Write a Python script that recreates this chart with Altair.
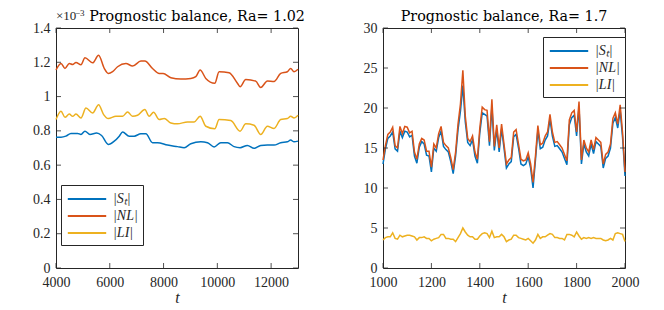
import altair as alt
import pandas as pd

FONT = "Liberation Serif"
TFONT = "DejaVu Serif"
BLUE, ORANGE, YELLOW = "#0072BD", "#D95319", "#EDB120"
LABELS = ["|Sₜ|", "|NL|", "|LI|"]
TXT = "#262626"

# ---------------- left panel (Ra = 1.02), values in units of 1e-3 ----------------
t_st_l = [4000, 4186, 4366, 4557, 4805, 4929, 5077, 5262, 5510, 5695, 5944, 6167, 6352, 6476,
          6724, 6909, 7157, 7343, 7590, 7776, 8147, 8519, 8767, 9014, 9386, 9633, 9881, 10128,
          10376, 10623, 10846, 11119, 11366, 11614, 11861, 12109, 12357, 12604, 12728, 12852, 13000]
v_st_l = [0.763, 0.763, 0.769, 0.785, 0.785, 0.779, 0.798, 0.779, 0.787, 0.773, 0.721, 0.740,
          0.769, 0.794, 0.768, 0.769, 0.783, 0.783, 0.731, 0.731, 0.717, 0.708, 0.702, 0.725,
          0.736, 0.731, 0.706, 0.731, 0.731, 0.708, 0.702, 0.715, 0.698, 0.715, 0.717, 0.717,
          0.731, 0.736, 0.746, 0.736, 0.740]

t_nl_l = [4000, 4186, 4334, 4495, 4619, 4743, 4929, 5077, 5362, 5585, 5795, 5944, 6105, 6290,
          6600, 6847, 7157, 7305, 7590, 7838, 7986, 8271, 8643, 9014, 9200, 9360, 9571, 9905,
          10066, 10438, 10747, 10846, 11057, 11428, 11614, 11861, 12109, 12357, 12604, 12728,
          12852, 13000]
v_nl_l = [1.155, 1.193, 1.164, 1.193, 1.187, 1.199, 1.186, 1.226, 1.197, 1.241, 1.164, 1.135,
          1.145, 1.174, 1.193, 1.178, 1.207, 1.207, 1.164, 1.135, 1.135, 1.110, 1.103, 1.106,
          1.116, 1.155, 1.106, 1.078, 1.145, 1.139, 1.078, 1.058, 1.100, 1.090, 1.053, 1.091,
          1.088, 1.135, 1.145, 1.164, 1.145, 1.159]

t_li_l = [4000, 4186, 4334, 4495, 4619, 4743, 4929, 5115, 5362, 5585, 5771, 5944, 6229, 6476,
          6662, 6847, 7033, 7305, 7466, 7627, 7838, 8024, 8271, 8519, 8890, 9138, 9360, 9571,
          9905, 10066, 10500, 10846, 11057, 11366, 11614, 11861, 12109, 12357, 12604, 12728,
          12852, 13000]
v_li_l = [0.866, 0.914, 0.879, 0.898, 0.885, 0.898, 0.875, 0.933, 0.904, 0.952, 0.895, 0.872,
          0.885, 0.885, 0.910, 0.885, 0.891, 0.924, 0.885, 0.908, 0.866, 0.872, 0.846, 0.841,
          0.852, 0.852, 0.885, 0.827, 0.812, 0.866, 0.860, 0.798, 0.841, 0.833, 0.779, 0.827,
          0.814, 0.866, 0.872, 0.885, 0.875, 0.891]

# ---------------- right panel (Ra = 1.7) ----------------
t_r = list(range(1000, 2001, 10))
v_nl_r = [13.5, 15.3, 16.7, 17.0, 17.6, 15.3, 15.0, 17.7, 16.8, 17.7,
          17.6, 16.9, 17.1, 14.5, 13.6, 15.5, 16.2, 16.0, 14.6, 14.6,
          12.6, 15.5, 15.0, 16.8, 17.7, 15.7, 15.3, 15.0, 13.8, 12.3,
          14.5, 18.0, 20.5, 24.7, 19.0, 16.2, 15.8, 16.5, 14.5, 13.6,
          17.5, 20.1, 19.8, 19.7, 15.8, 21.1, 15.2, 17.9, 15.0, 18.0,
          15.5, 13.0, 13.5, 13.8, 17.0, 17.3, 15.5, 13.6, 13.4, 13.5,
          14.4, 13.0, 10.7, 14.0, 17.8, 15.4, 15.6, 16.5, 17.0, 19.2,
          17.0, 15.7, 15.8, 15.4, 15.0, 14.2, 13.4, 18.5, 19.4, 19.7,
          17.0, 20.8, 13.5, 16.0, 15.0, 14.5, 16.0, 14.8, 16.3, 16.0,
          15.7, 13.0, 14.2, 14.5, 15.5, 18.7, 19.4, 18.0, 20.4, 16.9, 12.0]
v_st_r = [13.0, 14.9, 16.2, 16.5, 17.0, 14.9, 14.6, 17.1, 16.3, 17.1,
          17.0, 16.4, 16.6, 14.0, 13.1, 15.1, 15.8, 15.5, 14.1, 14.0,
          12.0, 15.0, 14.6, 16.3, 17.1, 15.2, 14.8, 14.5, 13.3, 11.8,
          14.0, 17.3, 19.6, 22.8, 18.3, 15.7, 15.3, 16.0, 14.0, 13.1,
          16.9, 19.4, 19.2, 19.0, 15.3, 20.2, 14.7, 17.3, 14.5, 17.4,
          15.0, 12.5, 13.0, 13.3, 16.4, 16.7, 15.0, 13.0, 12.8, 13.0,
          13.9, 12.5, 10.0, 13.5, 17.2, 14.9, 15.1, 16.0, 16.5, 18.6,
          16.5, 15.2, 15.3, 14.9, 14.5, 13.7, 12.9, 17.9, 18.8, 19.1,
          16.5, 20.1, 13.0, 15.5, 14.5, 14.0, 15.5, 14.3, 15.8, 15.5,
          15.2, 12.5, 13.7, 14.0, 15.0, 18.1, 18.8, 17.5, 19.7, 16.3, 11.5]
v_li_r = [3.5, 3.8, 3.9, 3.9, 4.4, 3.7, 3.6, 4.1, 3.9, 4.0,
          4.1, 4.1, 4.0, 3.9, 3.5, 3.8, 3.8, 3.9, 3.7, 3.7,
          3.4, 3.6, 3.7, 3.8, 4.2, 4.2, 3.7, 3.7, 3.6, 3.6,
          3.3, 3.8, 4.3, 5.0, 4.5, 4.1, 3.9, 3.9, 3.6, 3.6,
          4.0, 4.3, 4.4, 4.3, 3.8, 4.6, 3.8, 3.9, 3.9, 4.2,
          3.9, 3.3, 3.5, 3.6, 4.1, 4.1, 3.8, 3.7, 3.6, 3.5,
          3.7, 3.4, 3.1, 3.5, 4.2, 3.7, 3.9, 3.9, 4.1, 4.3,
          4.2, 3.8, 3.8, 3.7, 3.7, 3.5, 4.2, 4.2, 4.1, 3.9,
          4.5, 4.0, 3.6, 3.8, 3.7, 3.8, 3.7, 3.8, 3.7, 3.7,
          3.7, 3.5, 3.4, 3.5, 3.7, 3.5, 4.3, 4.4, 4.3, 4.2, 3.3]

xticks_l = [4000, 6000, 8000, 10000, 12000]
yticks_l = [0, 0.2, 0.4, 0.6, 0.8, 1.0, 1.2, 1.4]
xticks_r = [1000, 1200, 1400, 1600, 1800, 2000]
yticks_r = [0, 5, 10, 15, 20, 25, 30]
titles = ["Prognostic balance, Ra= 1.02", "Prognostic balance, Ra= 1.7"]
exp_base, exp_pow = "×10", "−3"

W, H = 242, 240
color_scale = alt.Scale(domain=LABELS, range=[BLUE, ORANGE, YELLOW])
AX = dict(labelFont=FONT, labelFontSize=14, labelColor=TXT, labelFlush=False,
          domain=False, ticks=False, grid=False, titleFont=FONT, titleFontSize=16,
          titleFontStyle="italic", titleFontWeight="normal", titleColor=TXT, titlePadding=0)


def panel(series, xdom, ydom, xticks, yticks, title, title_x, legx, legy, yext, interp, extra=()):
    xs = alt.Scale(domain=xdom, nice=False, zero=False)
    ys = alt.Scale(domain=ydom, nice=False, zero=False)
    xaxis = alt.Axis(values=xticks, format="d", title="t", labelPadding=7, **AX)
    yaxis = alt.Axis(values=yticks, format="~g", title=None, labelPadding=6,
                     minExtent=yext, maxExtent=yext, **AX)
    legend = alt.Legend(orient="none", legendX=legx, legendY=legy, title=None,
                        symbolType="M-2.4,0H2.4", symbolStrokeWidth=2, symbolSize=256,
                        symbolOffset=12,
                        strokeColor=TXT, fillColor="white", padding=5,
                        labelFont=FONT, labelFontSize=14, labelFontStyle="italic",
                        labelColor=TXT, rowPadding=1, labelOffset=17)
    layers = []
    for i, (t, v) in enumerate(series):
        df = pd.DataFrame({"t": t, "v": v, "s": [LABELS[i]] * len(t)})
        layers.append(
            alt.Chart(df).mark_line(strokeWidth=1.5, interpolate=interp).encode(
                x=alt.X("t:Q", scale=xs, axis=xaxis),
                y=alt.Y("v:Q", scale=ys, axis=yaxis),
                color=alt.Color("s:N", scale=color_scale, legend=legend),
            )
        )
    ytdf = pd.DataFrame({"v": yticks})
    xtdf = pd.DataFrame({"t": xticks})
    tick = dict(color=TXT, strokeWidth=0.8)
    layers.append(alt.Chart(ytdf).mark_rule(**tick).encode(
        y=alt.Y("v:Q", scale=ys, axis=yaxis), x=alt.value(0), x2=alt.value(5)))
    layers.append(alt.Chart(ytdf).mark_rule(**tick).encode(
        y=alt.Y("v:Q", scale=ys, axis=yaxis), x=alt.value(W - 5), x2=alt.value(W)))
    layers.append(alt.Chart(xtdf).mark_rule(**tick).encode(
        x=alt.X("t:Q", scale=xs, axis=xaxis), y=alt.value(H - 5), y2=alt.value(H)))
    layers.append(alt.Chart(xtdf).mark_rule(**tick).encode(
        x=alt.X("t:Q", scale=xs, axis=xaxis), y=alt.value(0), y2=alt.value(5)))
    layers.append(alt.Chart(pd.DataFrame({"ttl": [title]})).mark_text(
        align="center", baseline="alphabetic", font=TFONT, fontSize=14.3, color="black"
    ).encode(x=alt.value(title_x), y=alt.value(-7), text="ttl:N"))
    layers.extend(extra)
    return alt.layer(*layers).properties(width=W, height=H)


exp_marks = [
    alt.Chart(pd.DataFrame({"e": [exp_base]})).mark_text(
        align="left", baseline="alphabetic", font=FONT, fontSize=13, color=TXT
    ).encode(x=alt.value(0), y=alt.value(-8), text="e:N"),
    alt.Chart(pd.DataFrame({"e": [exp_pow]})).mark_text(
        align="left", baseline="alphabetic", font=FONT, fontSize=9, color=TXT
    ).encode(x=alt.value(19), y=alt.value(-12), text="e:N"),
]

left = panel([(t_st_l, v_st_l), (t_nl_l, v_nl_l), (t_li_l, v_li_l)],
             [4000, 13000], [0, 1.4], xticks_l, yticks_l,
             titles[0], W / 2 + 20, 5, 157, 47, "monotone", exp_marks)
right = panel([(t_r, v_st_r), (t_r, v_nl_r), (t_r, v_li_r)],
              [1000, 2000], [0, 30], xticks_r, yticks_r,
              titles[1], W / 2, 160, 9, 40, "linear")

chart = alt.hconcat(left, right, spacing=36).resolve_legend(color="independent").resolve_scale(
    color="independent").properties(padding=0, background="white").configure_view(
    stroke=TXT, strokeWidth=1)

chart.save("out.html", embed_options={"renderer": "svg", "actions": False})
